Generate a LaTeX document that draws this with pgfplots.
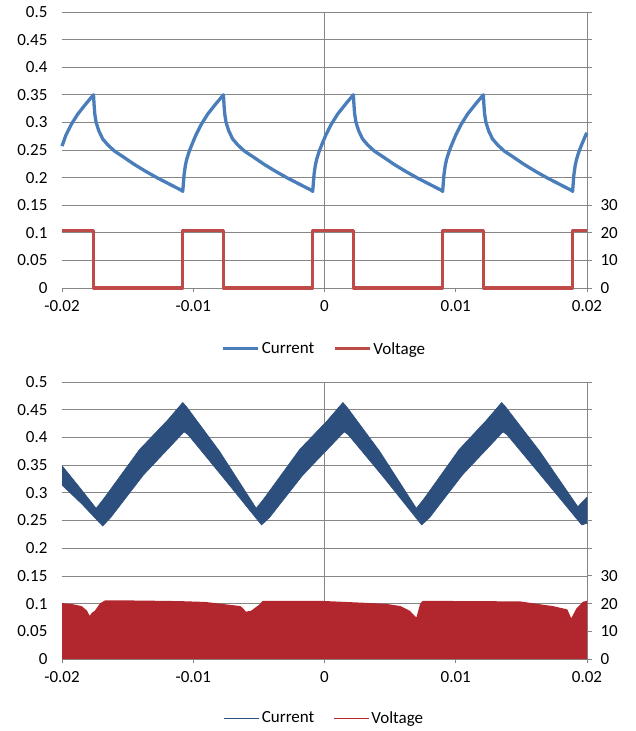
\documentclass[border=0pt]{standalone}
\usepackage{pgfplots}
\pgfplotsset{compat=1.18}
\usepackage{fontspec}
\setmainfont{Carlito}
\definecolor{topblue}{RGB}{74,126,187}
\definecolor{topred}{RGB}{190,75,72}
\definecolor{botblue}{RGB}{44,79,126}
\definecolor{botred}{RGB}{178,39,46}
\definecolor{gridgray}{RGB}{134,134,134}
\pgfplotsset{
  base/.style={scale only axis, width=525pt, xmin=-0.02, xmax=0.02, anchor=south west, clip=false,
    scaled x ticks=false, scaled y ticks=false,
    axis line style={draw=none}, tick style={gridgray, line width=0.8pt},
    ticklabel style={font=\fontsize{17}{20}\selectfont, text=black}},
  leftax/.style={base, ymin=0, ymax=0.5,
    ytick={0,0.05,0.1,0.15,0.2,0.25,0.3,0.35,0.4,0.45,0.5},
    yticklabels={0,0.05,0.1,0.15,0.2,0.25,0.3,0.35,0.4,0.45,0.5},
    ymajorgrids, major grid style={gridgray, line width=0.8pt},
    ytick style={draw=none},
    xtick={-0.02,-0.01,0,0.01,0.02}, xticklabels={-0.02,-0.01,0,0.01,0.02},
    xtick pos=bottom, xtick align=outside, major tick length=4.5pt,
    extra x ticks={0,0.02}, extra x tick labels={}, extra x tick style={grid=major},
    yticklabel style={xshift=-11pt}, xticklabel style={yshift=-4.5pt}},
  rightax/.style={base, ymin=0, ymax=100, hide x axis,
    ytick={0,10,20,30,40,50,60,70,80,90,100},
    yticklabels={0,10,20,30,{},{},{},{},{},{},{}},
    ytick pos=right, yticklabel pos=right, ytick align=outside, major tick length=5pt,
    yticklabel style={xshift=5pt},
    legend style={draw=none, fill=none, legend columns=2, font=\fontsize{17}{20}\selectfont,
      /tikz/every even column/.append style={column sep=17pt}},
    legend image code/.code={\draw[#1] (0pt,0pt) -- (35pt,0pt);}},
}
\begin{document}
\begin{tikzpicture}
\useasboundingbox (0,0) rectangle (635pt,731pt);
% ---------------- top panel ----------------
\begin{axis}[leftax, at={(62pt,443pt)}, height=276pt]
\addplot[topblue, line width=3.3pt, line join=round] coordinates {
(-0.0200,0.257) (-0.0197,0.277) (-0.0193,0.296) (-0.0188,0.315) (-0.0182,0.333) (-0.0176,0.350)
(-0.01755,0.330) (-0.0175,0.315) (-0.0174,0.300) (-0.0172,0.285) (-0.0169,0.270) (-0.0165,0.259) (-0.0160,0.248)
(-0.0153,0.237) (-0.0145,0.224) (-0.0136,0.211) (-0.0127,0.199) (-0.0118,0.188) (-0.0109,0.177)
(-0.0108,0.175) (-0.01075,0.190) (-0.0107,0.205) (-0.0106,0.222) (-0.0105,0.233) (-0.0103,0.248) (-0.0101,0.260)
(-0.0098,0.277) (-0.0094,0.296) (-0.0089,0.315) (-0.0083,0.333) (-0.0077,0.350)
(-0.00765,0.330) (-0.0076,0.315) (-0.0075,0.300) (-0.0073,0.285) (-0.0070,0.270) (-0.0066,0.259) (-0.0061,0.248)
(-0.0054,0.237) (-0.0046,0.224) (-0.0037,0.211) (-0.0028,0.199) (-0.0019,0.188) (-0.0010,0.177)
(-0.0009,0.175) (-0.00085,0.190) (-0.0008,0.205) (-0.0007,0.222) (-0.0006,0.233) (-0.0004,0.248) (-0.0002,0.260)
(0.0001,0.277) (0.0005,0.296) (0.0010,0.315) (0.0016,0.333) (0.0022,0.350)
(0.00225,0.330) (0.0023,0.315) (0.0024,0.300) (0.0026,0.285) (0.0029,0.270) (0.0033,0.259) (0.0038,0.248)
(0.0045,0.237) (0.0053,0.224) (0.0062,0.211) (0.0071,0.199) (0.0080,0.188) (0.0089,0.177)
(0.0090,0.175) (0.00905,0.190) (0.0091,0.205) (0.0092,0.222) (0.0093,0.233) (0.0095,0.248) (0.0097,0.260)
(0.0100,0.277) (0.0104,0.296) (0.0109,0.315) (0.0115,0.333) (0.0121,0.350)
(0.01215,0.330) (0.0122,0.315) (0.0123,0.300) (0.0125,0.285) (0.0128,0.270) (0.0132,0.259) (0.0137,0.248)
(0.0144,0.237) (0.0152,0.224) (0.0161,0.211) (0.0170,0.199) (0.0179,0.188) (0.0188,0.177)
(0.0189,0.175) (0.01895,0.190) (0.0190,0.205) (0.0191,0.222) (0.0192,0.233) (0.0194,0.248) (0.0196,0.260)
(0.0199,0.277) (0.0200,0.281)
};
\end{axis}
\begin{axis}[rightax, at={(62pt,443pt)}, height=276pt,
  legend style={at={(0.5,-0.221)}, anchor=center}]
\addlegendimage{topblue, line width=3pt}
\addlegendentry{Current}
\addplot[topred, line width=3.3pt, line join=round, forget plot] coordinates {
(-0.0200,20.8) (-0.0176,20.8) (-0.0176,0) (-0.0108,0) (-0.0108,20.8) (-0.0077,20.8) (-0.0077,0)
(-0.0009,0) (-0.0009,20.8) (0.0022,20.8) (0.0022,0) (0.0090,0) (0.0090,20.8) (0.0121,20.8) (0.0121,0)
(0.0189,0) (0.0189,20.8) (0.0200,20.8)
};
\addlegendimage{topred, line width=3pt}
\addlegendentry{Voltage}
\end{axis}
% ---------------- bottom panel ----------------
\begin{axis}[leftax, at={(62pt,72pt)}, height=277pt]
\addplot[fill=botblue, draw=botblue, line width=0.6pt] coordinates {
(-0.0200,0.349) (-0.0187,0.311) (-0.0174,0.272) (-0.0168,0.290) (-0.0141,0.378) (-0.0120,0.430) (-0.0108,0.463)
(-0.0105,0.455) (-0.0080,0.375) (-0.0052,0.272) (-0.0046,0.290) (-0.0019,0.378) (0.0002,0.430) (0.0014,0.463)
(0.0017,0.455) (0.0042,0.375) (0.0070,0.272) (0.0076,0.290) (0.01025,0.378) (0.0123,0.430) (0.0135,0.463)
(0.0138,0.455) (0.0164,0.375) (0.0193,0.275) (0.0200,0.292)
(0.0200,0.245) (0.0196,0.242) (0.0166,0.328) (0.0139,0.405) (0.0136,0.410) (0.0105,0.332) (0.0080,0.255)
(0.0074,0.242) (0.0045,0.328) (0.0018,0.405) (0.0015,0.410) (-0.00165,0.332) (-0.0042,0.255) (-0.0048,0.242)
(-0.0077,0.327) (-0.0104,0.405) (-0.0107,0.410) (-0.0138,0.332) (-0.0163,0.255) (-0.0169,0.240) (-0.0185,0.280)
(-0.0200,0.314)
};
\end{axis}
\begin{axis}[rightax, at={(62pt,72pt)}, height=277pt,
  legend style={at={(0.5,-0.213)}, anchor=center}]
\addlegendimage{botblue, line width=1pt}
\addlegendentry{Current}
\addplot[fill=botred, draw=none, forget plot] coordinates {
(-0.0200,20.2) (-0.0192,19.8) (-0.0185,19.1) (-0.0181,17.5) (-0.0179,15.6) (-0.0177,16.8) (-0.0175,17.4)
(-0.0171,20.1) (-0.0167,21.2) (-0.0140,21.1) (-0.0110,20.9) (-0.0091,20.6) (-0.0078,19.9) (-0.0064,19.1)
(-0.0061,17.8) (-0.0060,17.1) (-0.0056,17.4) (-0.0050,19.5) (-0.0047,21.0) (-0.0003,21.0) (0.0030,20.3)
(0.0047,19.9) (0.0058,19.1) (0.0065,17.4) (0.0070,15.0) (0.0073,20.1) (0.0075,21.0) (0.0149,20.8)
(0.0162,19.9) (0.0174,19.1) (0.0185,17.9) (0.0188,14.7) (0.0192,18.3) (0.0197,20.7) (0.0200,21.0)
} \closedcycle;
\addlegendimage{botred, line width=1pt}
\addlegendentry{Voltage}
\end{axis}
\end{tikzpicture}
\end{document}
